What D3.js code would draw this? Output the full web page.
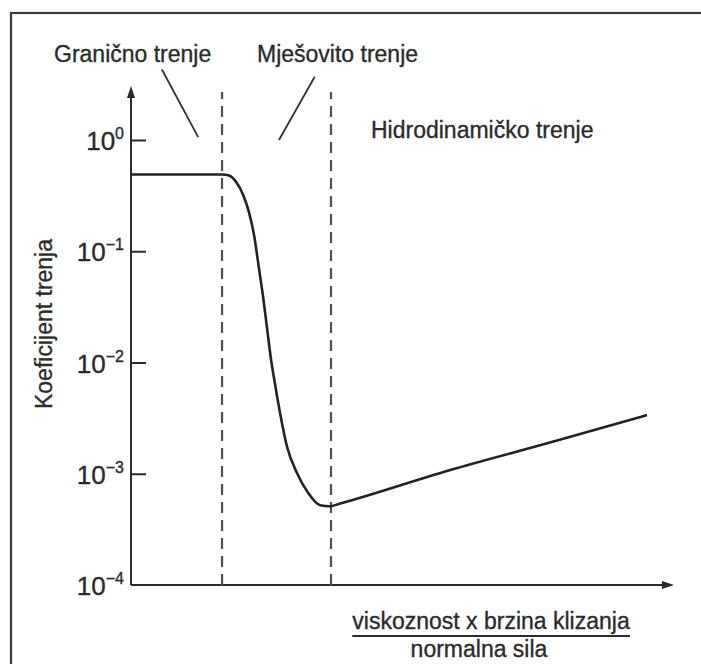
<!DOCTYPE html>
<html>
<head>
<meta charset="utf-8">
<script src="https://cdn.jsdelivr.net/npm/d3@7"></script>
<style>
  html, body { margin: 0; padding: 0; background: #fff; }
  svg { display: block; }
  text { font-family: "Liberation Sans", Arial, Helvetica, sans-serif; fill: #2b2b2b; stroke: #2b2b2b; stroke-width: 0.35px; }
</style>
</head>
<body>
<svg id="chart" width="701" height="664"></svg>
<script>
// ---- data ----
// x: "viskoznost x brzina klizanja / normalna sila" (arbitrary linear units)
const xValues = [0, 16.8, 18.1, 19.4, 20.7, 21.8, 22.7, 23.6, 24.4, 25.1, 25.8, 26.6, 27.5, 28.8, 30.6, 32.7, 34.9, 36.7, 38.6, 58.9, 77.3, 95.2];
// coefficient of friction
const muValues = [0.49, 0.49, 0.48, 0.419, 0.321, 0.221, 0.140, 0.0707, 0.0380, 0.0204, 0.01096, 0.00628, 0.00352, 0.00174, 0.00102, 0.00067, 0.00052, 0.00051, 0.00054, 0.00108, 0.00191, 0.00337];
const regionBounds = [16.8, 36.9];
const yTickValues = [1, 1e-1, 1e-2, 1e-3, 1e-4];
const yTickExponents = ["0", "\u22121", "\u22122", "\u22123", "\u22124"];
const regionLabels = ["Granično trenje", "Mješovito trenje", "Hidrodinamičko trenje"];
const yLabel = "Koeficijent trenja";
const xLabelTop = "viskoznost x brzina klizanja";
const xLabelBottom = "normalna sila";

// ---- scales ----
const svg = d3.select("#chart");
const x = d3.scaleLinear().domain([0, 100]).range([131, 673]);
const y = d3.scaleLog().domain([1e-4, 1]).range([585, 140]);
const yTop = 3.0;

// frame
svg.append("rect").attr("x", 11).attr("y", 13).attr("width", 700).attr("height", 670)
  .attr("fill", "none").attr("stroke", "#3a3a3a").attr("stroke-width", 2.2);

// arrow marker
const defs = svg.append("defs");
defs.append("marker").attr("id", "arrow").attr("viewBox", "0 0 12 10")
  .attr("refX", 1).attr("refY", 5).attr("markerWidth", 12).attr("markerHeight", 10)
  .attr("markerUnits", "userSpaceOnUse").attr("orient", "auto")
  .append("path").attr("d", "M0,1 L12,5 L0,9 Z").attr("fill", "#2b2b2b");

// axes lines
svg.append("line").attr("x1", x(0)).attr("x2", x(0)).attr("y1", y(1e-4)).attr("y2", y(yTop) + 10)
  .attr("stroke", "#2b2b2b").attr("stroke-width", 2).attr("marker-end", "url(#arrow)");
svg.append("line").attr("x1", x(0)).attr("x2", x(100) - 10).attr("y1", y(1e-4)).attr("y2", y(1e-4))
  .attr("stroke", "#2b2b2b").attr("stroke-width", 2).attr("marker-end", "url(#arrow)");

// y ticks (inward)
const yAxis = d3.axisRight(y).tickValues(yTickValues).tickSize(15).tickFormat("");
const gy = svg.append("g").attr("transform", `translate(${x(0)},0)`).call(yAxis);
gy.select(".domain").remove();
gy.selectAll(".tick line").attr("stroke", "#2b2b2b").attr("stroke-width", 2);
gy.selectAll(".tick").filter(d => d === 1e-4).select("line").remove();

// y tick labels: 10^n
yTickValues.forEach((v, i) => {
  const t = svg.append("text").attr("x", 124).attr("y", y(v) + 10)
    .attr("text-anchor", "end").style("font-size", "26px");
  t.append("tspan").text("10");
  t.append("tspan").attr("dy", -11).style("font-size", "16px").text(yTickExponents[i]);
});

// dashed region boundaries
regionBounds.forEach(b => {
  svg.append("line").attr("x1", x(b)).attr("x2", x(b)).attr("y1", y(1e-4)).attr("y2", y(2.7))
    .attr("stroke", "#505050").attr("stroke-width", 2.2).attr("stroke-dasharray", "11,7");
});

// friction curve
const pts = xValues.map((v, i) => [v, muValues[i]]);
const line = d3.line().x(d => x(d[0])).y(d => y(d[1])).curve(d3.curveMonotoneX);
svg.append("path").datum(pts).attr("d", line).attr("fill", "none")
  .attr("stroke", "#222").attr("stroke-width", 2.6).attr("stroke-linejoin", "round");

// region labels
svg.append("text").attr("x", 54).attr("y", 62).style("font-size", "23px").text(regionLabels[0]);
svg.append("text").attr("x", 257).attr("y", 62).style("font-size", "23px").text(regionLabels[1]);
svg.append("text").attr("x", 371).attr("y", 138).style("font-size", "23px").text(regionLabels[2]);

// leader lines (data space)
const leaders = [
  { x1: 5.7, y1: 4.3, x2: 12.4, y2: 1.06 },
  { x1: 33.9, y1: 3.7, x2: 27.3, y2: 1.0 }
];
leaders.forEach(l => {
  svg.append("line").attr("x1", x(l.x1)).attr("y1", y(l.y1)).attr("x2", x(l.x2)).attr("y2", y(l.y2))
    .attr("stroke", "#333").attr("stroke-width", 1.8);
});

// y label
svg.append("text").attr("transform", "translate(52,324) rotate(-90)")
  .attr("text-anchor", "middle").style("font-size", "23px").text(yLabel);

// x label (fraction)
const xl = svg.append("text").attr("x", 491).attr("y", 629).attr("text-anchor", "middle")
  .style("font-size", "23px").text(xLabelTop);
const bb = xl.node().getBBox();
svg.append("line").attr("x1", bb.x).attr("x2", bb.x + bb.width).attr("y1", 636).attr("y2", 636)
  .attr("stroke", "#2b2b2b").attr("stroke-width", 2);
svg.append("text").attr("x", 479).attr("y", 657).attr("text-anchor", "middle")
  .style("font-size", "23px").text(xLabelBottom);
</script>
</body>
</html>
